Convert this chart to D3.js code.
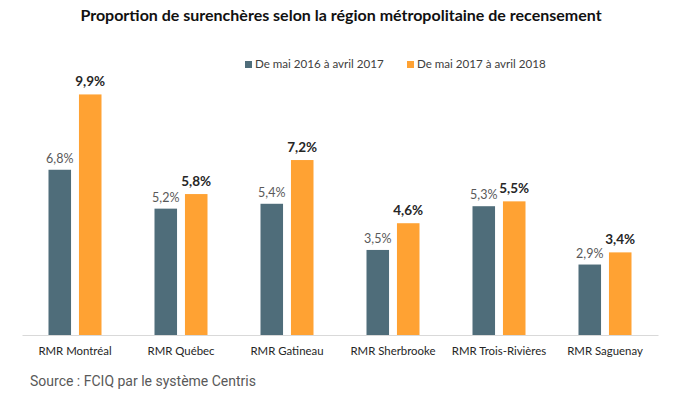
<!DOCTYPE html>
<html><head><meta charset="utf-8">
<script src="https://cdn.jsdelivr.net/npm/d3@7"></script>
<style>body{margin:0;background:#fff}svg{display:block}</style>
</head><body>
<svg id="c" width="680" height="399"></svg>
<script>
const categories = ["RMR Montréal","RMR Québec","RMR Gatineau","RMR Sherbrooke","RMR Trois-Rivières","RMR Saguenay"];
const series2017 = [6.8,5.2,5.4,3.5,5.3,2.9];
const series2018 = [9.9,5.8,7.2,4.6,5.5,3.4];
const seriesNames = ["De mai 2016 à avril 2017","De mai 2017 à avril 2018"];
const colors = ["#4f6d7a","#ffa233"];
const title = "Proportion de surenchères selon la région métropolitaine de recensement";
const source = "Source : FCIQ par le système Centris";

const svg = d3.select("#c");
const font = "Lato, 'Open Sans', sans-serif";
const fmt = v => d3.format(".1f")(v).replace(".", ",") + "%";

const x0 = d3.scaleBand().domain(categories).range([22, 658]);
const x1 = d3.scaleBand().domain([0,1]).range([0, 53]).paddingInner(0.26);
const y = d3.scaleLinear().domain([0, 10]).range([335, 92]);

svg.append("text").attr("x", 341).attr("y", 21).attr("text-anchor","middle")
  .attr("font-family", font).attr("font-weight","bold").attr("font-size", 16)
  .attr("fill","#111").text(title);

// legend
const leg = [{x:245},{x:407}];
leg.forEach((l,i)=>{
  svg.append("rect").attr("x", l.x).attr("y", 61).attr("width",7).attr("height",7).attr("fill", colors[i]);
  svg.append("text").attr("x", l.x+10).attr("y", 68).attr("font-family", font)
    .attr("font-size", 11.6).attr("fill","#404040").text(seriesNames[i]);
});

const data = categories.map((c,i)=>({c, vals:[series2017[i], series2018[i]]}));
const g = svg.append("g");
const grp = g.selectAll("g.grp").data(data).join("g")
  .attr("transform", d => `translate(${x0(d.c) + x0.bandwidth()/2 - 26.5},0)`);
grp.selectAll("rect").data(d => d.vals.map((v,k)=>({v,k}))).join("rect")
  .attr("x", d => x1(d.k)).attr("width", x1.bandwidth())
  .attr("y", d => y(d.v)).attr("height", d => y(0) - y(d.v))
  .attr("fill", d => colors[d.k]);
grp.selectAll("text").data(d => d.vals.map((v,k)=>({v,k}))).join("text")
  .attr("x", d => x1(d.k) + x1.bandwidth()/2)
  .attr("y", d => y(d.v) - (d.k ? 8 : 7))
  .attr("text-anchor","middle").attr("font-family", font)
  .attr("font-size", d => d.k ? 13.5 : 12.5)
  .attr("font-weight", d => d.k ? "bold" : "normal")
  .attr("fill", d => d.k ? "#262626" : "#595959")
  .text(d => fmt(d.v));

// axis
const ax = svg.append("g").attr("transform","translate(0,335)")
  .call(d3.axisBottom(x0).tickSize(0).tickPadding(12));
ax.select(".domain").attr("stroke","#d9d9d9").attr("stroke-width",1);
ax.selectAll("text").attr("font-family", font).attr("font-size", 11.4).attr("fill","#262626");

svg.append("text").attr("x", 30).attr("y", 386).attr("font-family","Roboto, sans-serif")
  .attr("font-size", 14).attr("fill","#595959").text(source);
</script>
</body></html>
